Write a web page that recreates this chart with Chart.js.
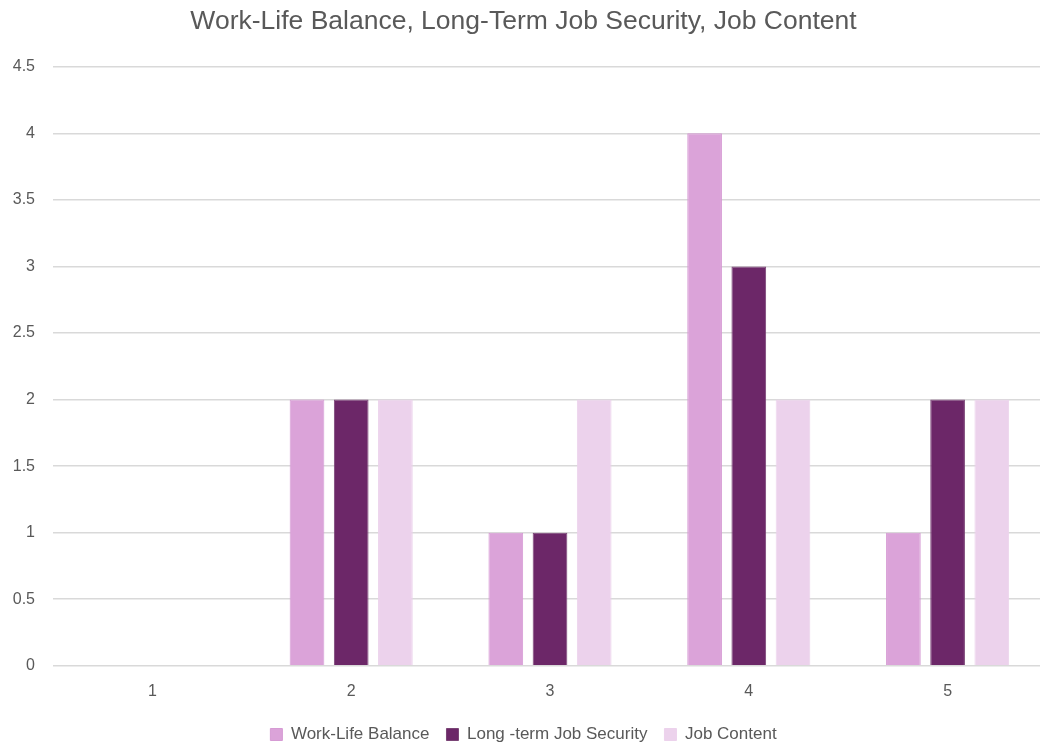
<!DOCTYPE html>
<html>
<head>
<meta charset="utf-8">
<script src="https://cdn.jsdelivr.net/npm/chart.js@4/dist/chart.umd.min.js"></script>
<style>
  html, body { margin: 0; padding: 0; background: #fff; overflow: hidden; }
  /* plot runs a few pixels past the right edge of the window */
  #wrap { width: 1047px; height: 744px; }
</style>
</head>
<body>
<div id="wrap"><canvas id="chart"></canvas></div>
<script>
  const ratings = ["1", "2", "3", "4", "5"];
  const workLife = [0, 2, 1, 4, 1];
  const jobSecurity = [0, 2, 1, 3, 2];
  const jobContent = [0, 2, 2, 2, 2];

  const fontFamily = "'Liberation Sans', 'DejaVu Sans', sans-serif";
  const textGray = "#595959";

  var ctx = document.getElementById("chart");

  var chartGraph = new Chart(ctx, {
    type: "bar",
    data: {
      labels: ratings,
      datasets: [
        {
          label: "Work-Life Balance",
          data: workLife,
          backgroundColor: "#DBA3D9",
          borderColor: "#D69BD4",
          borderWidth: 1,
        },
        {
          label: "Long -term Job Security",
          data: jobSecurity,
          backgroundColor: "#6C2768",
          borderColor: "#7A4476",
          borderWidth: 1,
        },
        {
          label: "Job Content",
          data: jobContent,
          backgroundColor: "#ECD2EC",
          borderColor: "#ECD2EC",
          borderWidth: 1,
        },
      ],
    },
    options: {
      responsive: true,
      maintainAspectRatio: false,
      animation: false,
      categoryPercentage: 0.667,
      barPercentage: 0.785,
      layout: { padding: { top: 6, right: 0, left: 0, bottom: -9 } },
      plugins: {
        title: {
          display: true,
          text: "Work-Life Balance, Long-Term Job Security, Job Content",
          color: textGray,
          font: { family: fontFamily, size: 26.5, weight: "normal" },
          padding: { top: 0, bottom: 29 },
        },
        legend: {
          position: "bottom",
          labels: {
            color: textGray,
            font: { family: fontFamily, size: 17 },
            boxWidth: 12,
            boxHeight: 12,
            padding: 17,
          },
        },
        tooltip: { enabled: false },
      },
      scales: {
        x: {
          grid: { display: false },
          border: { display: false },
          ticks: { color: textGray, font: { family: fontFamily, size: 16 }, padding: 8 },
        },
        y: {
          min: 0,
          max: 4.5,
          afterFit: function (scale) { scale.width = 53; },
          grid: { color: "#D9D9D9", lineWidth: 1.5, drawTicks: false },
          border: { display: false },
          ticks: {
            stepSize: 0.5,
            color: textGray,
            font: { family: fontFamily, size: 16 },
            padding: 18,
            callback: function (v) { return v; },
          },
        },
      },
    },
  });
</script>
</body>
</html>
